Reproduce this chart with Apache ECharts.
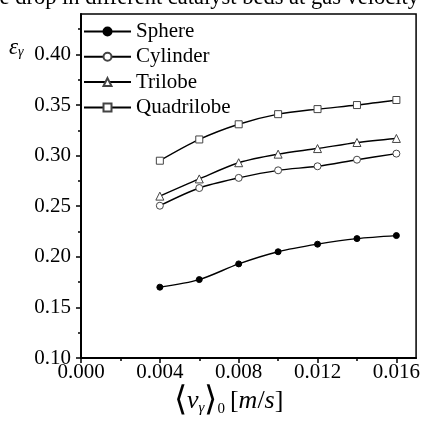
<!DOCTYPE html>
<html><head><meta charset="utf-8">
<script src="https://cdn.jsdelivr.net/npm/echarts@6/dist/echarts.min.js"></script>
<style>html,body{margin:0;padding:0;background:#fff}#c{width:423px;height:425px}</style>
</head><body><div id="c"></div>
<script>
var seriesNames = ['Sphere', 'Cylinder', 'Trilobe', 'Quadrilobe'];
var xValues = [0.004, 0.006, 0.008, 0.010, 0.012, 0.014, 0.016];
var sphere = [0.170, 0.1775, 0.193, 0.205, 0.2125, 0.218, 0.221];
var cylinder = [0.2505, 0.268, 0.278, 0.2855, 0.2895, 0.296, 0.302];
var trilobe = [0.260, 0.277, 0.293, 0.3015, 0.307, 0.313, 0.317];
var quadrilobe = [0.295, 0.316, 0.331, 0.341, 0.346, 0.350, 0.355];
var xTicks = [0, 0.004, 0.008, 0.012, 0.016];
var xMinorTicks = [0.002, 0.006, 0.010, 0.014];
var yTicks = [0.10, 0.15, 0.20, 0.25, 0.30, 0.35, 0.40];
var yMinorTicks = [0.125, 0.175, 0.225, 0.275, 0.325, 0.375, 0.425];

var FONT = 'Liberation Serif';
var chart = echarts.init(document.getElementById('c'), null, {renderer: 'canvas'});
function pairs(arr) { return xValues.map(function (x, i) { return [x, arr[i]]; }); }
var symbols = ['circle', 'circle', 'triangle', 'rect'];
var sizes = [6, 7, 8, 7];
var fills = ['#000', '#fff', '#fff', '#fff'];
var allData = [sphere, cylinder, trilobe, quadrilobe];

var series = seriesNames.map(function (n, i) {
  return {
    name: n, type: 'line', xAxisIndex: 0, yAxisIndex: 0,
    data: pairs(allData[i]), smooth: 0.3,
    symbol: symbols[i], symbolSize: sizes[i], showSymbol: true,
    lineStyle: {color: '#000', width: 1.4},
    itemStyle: {color: fills[i], borderColor: i === 0 ? '#000' : '#444', borderWidth: 1},
    emphasis: {disabled: true}, animation: false, z: 3
  };
});

var option = {
  animation: false,
  grid: {left: 81, right: 4, top: 14, bottom: 67, show: true, borderColor: '#000', borderWidth: 1.5, backgroundColor: 'transparent'},
  legend: {
    orient: 'vertical', left: 83, top: 21, padding: 0, itemWidth: 47, itemHeight: 10, itemGap: 4.3,
    data: seriesNames, selectedMode: false,
    textStyle: {fontFamily: FONT, fontSize: 21, lineHeight: 21, color: '#000', padding: [0, 0, 0, 0]}
  },
  xAxis: [{
    type: 'value', min: 0, max: 0.017, position: 'bottom',
    axisLine: {show: true, onZero: false, lineStyle: {color: '#000', width: 2}},
    axisTick: {show: true, inside: false, length: 5, customValues: xTicks, lineStyle: {color: '#000', width: 1.5}},
    axisLabel: {customValues: xTicks, fontFamily: FONT, fontSize: 21, color: '#000', margin: 4,
      formatter: function (v) { return v.toFixed(3); }},
    splitLine: {show: false}
  }, {
    type: 'value', min: 0, max: 0.017, position: 'bottom', gridIndex: 0,
    axisLine: {show: false, onZero: false},
    axisTick: {show: true, inside: false, length: 3, customValues: xMinorTicks, lineStyle: {color: '#000', width: 1.5}},
    axisLabel: {show: false}, splitLine: {show: false}
  }],
  yAxis: [{
    type: 'value', min: 0.10, max: 0.44, position: 'left',
    axisLine: {show: true, onZero: false, lineStyle: {color: '#000', width: 2}},
    axisTick: {show: true, inside: false, length: 5, customValues: yTicks, lineStyle: {color: '#000', width: 1.5}},
    axisLabel: {customValues: yTicks, fontFamily: FONT, fontSize: 21, color: '#000', margin: 10,
      formatter: function (v) { return v.toFixed(2); }},
    splitLine: {show: false}
  }, {
    type: 'value', min: 0.10, max: 0.44, position: 'left',
    axisLine: {show: false, onZero: false},
    axisTick: {show: true, inside: false, length: 3, customValues: yMinorTicks, lineStyle: {color: '#000', width: 1.5}},
    axisLabel: {show: false}, splitLine: {show: false}
  }],
  graphic: [{
    type: 'text', x: 419, y: 10,
    style: {text: 'Pressure drop in different catalyst beds at gas velocity', font: '22.5px "Liberation Serif"', fill: '#000', align: 'right', verticalAlign: 'bottom'}
  }, {
    type: 'text', left: 9, top: 36,
    style: {
      rich: {e: {fontFamily: FONT, fontStyle: 'italic', fontSize: 23, fill: '#000'},
             s: {fontFamily: FONT, fontStyle: 'italic', fontSize: 14, fill: '#000', padding: [9, 0, 0, 0]}},
      text: '{e|ε}{s|γ}'
    }
  }, {
    type: 'text', left: 174, top: 384,
    style: {
      rich: {b: {fontFamily: FONT, fontSize: 34, fill: '#000'},
             v: {fontFamily: FONT, fontStyle: 'italic', fontSize: 26, fill: '#000'},
             s: {fontFamily: FONT, fontStyle: 'italic', fontSize: 15, fill: '#000', padding: [14, 0, 0, 0]},
             z: {fontFamily: FONT, fontSize: 15, fill: '#000', padding: [16, 5, 0, 0]},
             t: {fontFamily: FONT, fontSize: 26, fill: '#000'},
             i: {fontFamily: FONT, fontStyle: 'italic', fontSize: 26, fill: '#000'}},
      text: '{b|⟨}{v|v}{s|γ}{b|⟩}{z|0}{t|[}{i|m}{t|/}{i|s}{t|]}'
    }
  }],
  series: series
};
chart.setOption(option);
</script></body></html>
